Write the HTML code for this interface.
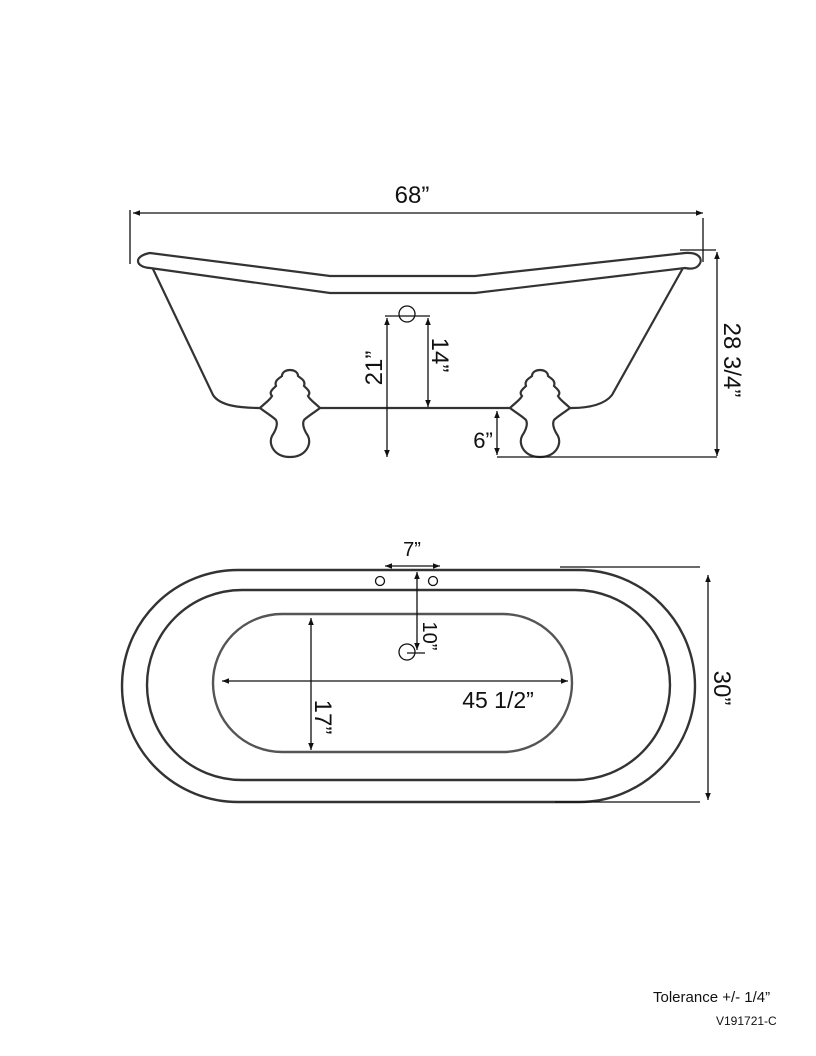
<!DOCTYPE html>
<html><head><meta charset="utf-8"><style>
html,body{margin:0;padding:0;background:#fff;}
svg{display:block;}
text{font-family:"Liberation Sans",Arial,sans-serif;fill:#111;}
</style></head><body>
<svg width="816" height="1056" viewBox="0 0 816 1056" xmlns="http://www.w3.org/2000/svg">
<defs>
<marker id="a" viewBox="0 0 10 10" refX="10" refY="5" markerWidth="9" markerHeight="7" orient="auto-start-reverse" markerUnits="userSpaceOnUse">
<path d="M0,1 L10,5 L0,9 Z" fill="#111"/></marker>
<g id="foot"><path d="M -30 38 C -25 33 -20 30 -18 26 C -22 22 -16 18 -14 16 C -16 10 -10 8 -8 6 C -8 2 -4 0 0 0 C 4 0 8 2 8 6 C 10 8 16 10 14 16 C 16 18 22 22 18 26 C 20 30 25 33 30 38 C 25 42 18 46 14 50 C 12 54 14 60 18 66 C 22 74 16 87 0 87 C -16 87 -22 74 -18 66 C -14 60 -12 54 -14 50 C -18 46 -25 42 -30 38 Z" fill="#fff" stroke="#333" stroke-width="2.2"/></g>
</defs>
<g fill="none" stroke="#333" stroke-width="2.2">
<path d="M150 253 L330 276 L475 276 L685 253 C700 252 704 260 698 266 C695 269 690 269 685 268 L475 293 L330 293 L150 268 C135 267 133 256 150 253 Z"/>
<path d="M153 269 L213 395 C220 406 240 408 262 408"/>
<path d="M683 268 L612 395 C605 404 590 408 572 408"/>
<line x1="262" y1="408" x2="572" y2="408"/>
</g>
<use href="#foot" x="290" y="370"/>
<use href="#foot" x="540" y="370"/>
<g stroke="#111" stroke-width="1.3" fill="none">
<line x1="133" y1="213" x2="703" y2="213" marker-start="url(#a)" marker-end="url(#a)"/>
<line x1="130" y1="210" x2="130" y2="264"/>
<line x1="703" y1="218" x2="703" y2="262"/>
<line x1="680" y1="250" x2="716" y2="250"/>
<line x1="717" y1="252" x2="717" y2="456" marker-start="url(#a)" marker-end="url(#a)"/>
<line x1="497" y1="457" x2="717" y2="457"/>
<circle cx="407" cy="314" r="8"/>
<line x1="385" y1="316" x2="430" y2="316"/>
<line x1="387" y1="318" x2="387" y2="457" marker-start="url(#a)" marker-end="url(#a)"/>
<line x1="428" y1="318" x2="428" y2="407" marker-start="url(#a)" marker-end="url(#a)"/>
<line x1="497" y1="411" x2="497" y2="455" marker-start="url(#a)" marker-end="url(#a)"/>
</g>
<text x="412" y="203" font-size="24" text-anchor="middle">68”</text>
<text x="483" y="448" font-size="22" text-anchor="middle">6”</text>
<text transform="translate(382,368) rotate(-90)" font-size="24" text-anchor="middle">21”</text>
<text transform="translate(432,355) rotate(90)" font-size="24" text-anchor="middle">14”</text>
<text transform="translate(724,360) rotate(90)" font-size="24" text-anchor="middle">28 3/4”</text>
<g fill="none" stroke="#333" stroke-width="2.4">
<rect x="122" y="570" width="573" height="232" rx="116" ry="116"/>
<rect x="147" y="590" width="523" height="190" rx="95" ry="95"/>
<rect x="213" y="614" width="359" height="138" rx="69" ry="69" stroke="#555"/>
</g>
<g stroke="#111" stroke-width="1.3" fill="none">
<circle cx="380" cy="581" r="4.5"/>
<circle cx="433" cy="581" r="4.5"/>
<circle cx="407" cy="652" r="8"/>
<line x1="407" y1="653" x2="425" y2="653"/>
<line x1="385" y1="566" x2="440" y2="566" marker-start="url(#a)" marker-end="url(#a)"/>
<line x1="417" y1="572" x2="417" y2="650" marker-start="url(#a)" marker-end="url(#a)"/>
<line x1="222" y1="681" x2="568" y2="681" marker-start="url(#a)" marker-end="url(#a)"/>
<line x1="311" y1="618" x2="311" y2="750" marker-start="url(#a)" marker-end="url(#a)"/>
<line x1="560" y1="567" x2="700" y2="567"/>
<line x1="555" y1="802" x2="700" y2="802"/>
<line x1="708" y1="575" x2="708" y2="800" marker-start="url(#a)" marker-end="url(#a)"/>
</g>
<text x="412" y="556" font-size="20" text-anchor="middle">7”</text>
<text transform="translate(423,636) rotate(90)" font-size="20" text-anchor="middle">10”</text>
<text x="498" y="708" font-size="23" text-anchor="middle">45 1/2”</text>
<text transform="translate(315,717) rotate(90)" font-size="24" text-anchor="middle">17”</text>
<text transform="translate(714,688) rotate(90)" font-size="24" text-anchor="middle">30”</text>
<text x="653" y="1002" font-size="15">Tolerance +/- 1/4”</text>
<text x="716" y="1025" font-size="12">V191721-C</text>
</svg>
</body></html>
